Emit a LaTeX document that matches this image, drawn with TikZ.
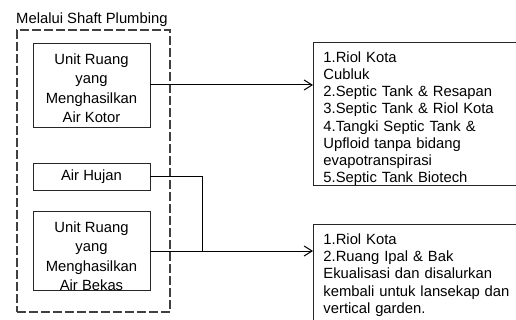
\documentclass[tikz,border=0pt]{standalone}
\usepackage{fontspec}
\setmainfont{Liberation Sans}
\usetikzlibrary{arrows.meta}

\begin{document}
\begin{tikzpicture}[x=1pt,y=-1pt]

    \tikzset{
      unit/.style={
        draw=black!85,
        line width=0.9pt,
        minimum width=117pt,
        inner sep=0pt,
        align=center,
        font=\fontsize{14.8}{19.5}\selectfont,
      },
      hasil/.style={
        draw=black!85,
        line width=0.9pt,
        inner xsep=10pt,
        text width=187pt,
        align=left,
        font=\fontsize{14.8}{17.14}\selectfont,
      },
      alir/.style={
        line width=1pt,
        -{Straight Barb[length=8pt,width=10pt]},
      },
    }
    \useasboundingbox (0,0) rectangle (516,320);
    \clip (0,0) rectangle (516,320);

	% kelompok shaft plumbing
	\node[anchor=base west,inner sep=0pt,font=\fontsize{14.8}{17}\selectfont] (judul) at (16,23.3) {Melalui Shaft Plumbing};
	\node[draw=black!75,line width=1.3pt,dash pattern=on 9pt off 3pt,minimum width=153pt,minimum height=282pt] (shaft) at (93.5,171) {};

	\node[unit,minimum height=84pt,label={[align=center,font=\fontsize{14.8}{19.5}\selectfont,yshift=-3pt]center:Unit Ruang\\yang\\Menghasilkan\\Air Kotor}] (kotor) at (91.5,85) {};
	\node[unit,minimum height=27pt] (hujan) at (91.5,176.5) {Air Hujan};
	\node[unit,minimum height=79pt,label={[align=center,font=\fontsize{14.8}{19.5}\selectfont,yshift=-5pt]center:Unit Ruang\\yang\\Menghasilkan\\Air Bekas}] (bekas) at (91.5,251) {};

	% tujuan pembuangan
	\node[hasil,anchor=north west,minimum height=143pt,inner ysep=0pt,label={[hasil,draw=none,anchor=center,inner sep=0pt,yshift=-4.7pt]center:1.Riol Kota\\Cubluk\\2.Septic Tank \& Resapan\\3.Septic Tank \& Riol Kota\\4.Tangki Septic Tank \&\\Upfloid tanpa bidang\\evapotranspirasi\\5.Septic Tank Biotech}] (tujuan1) at (313,42) {};
	\node[hasil,anchor=north west,inner ysep=9.5pt] (tujuan2) at (313,224) {1.Riol Kota\\2.Ruang Ipal \& Bak\\Ekualisasi dan disalurkan\\kembali untuk lansekap dan\\vertical garden.};

	\coordinate (belok) at (202,0);
	\draw[alir] (kotor.east) -- (kotor.east -| tujuan1.west);
	\draw[line width=1pt] (hujan.east) -| (belok |- bekas.east);
	\draw[alir] (bekas.east) -- (bekas.east -| tujuan2.west);

\end{tikzpicture}
\end{document}
